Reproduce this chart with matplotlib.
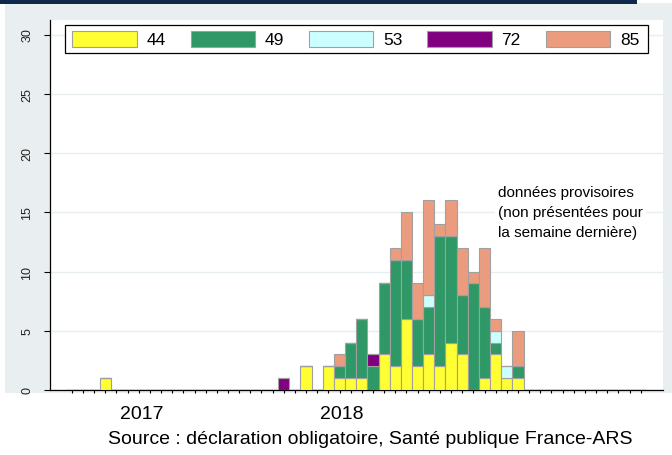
import numpy as np
import matplotlib
matplotlib.use("Agg")
import matplotlib.pyplot as plt
from matplotlib.patches import Rectangle

plt.rcParams['font.family'] = ['Liberation Sans', 'DejaVu Sans']

# weekly counts per department (52 weeks)
weeks = np.arange(52)
dep_labels = ['44', '49', '53', '72', '85']
dep_colors = ['#ffff33', '#2e9966', '#ccffff', '#800080', '#eb9c7e']

n44 = [0, 0, 0, 1, 0, 0, 0, 0, 0, 0, 0, 0, 0, 0, 0, 0, 0, 0, 0, 0,
       0, 2, 0, 2, 1, 1, 1, 0, 3, 2, 6, 2, 3, 2, 4, 3, 0, 1, 3, 1,
       1, 0, 0, 0, 0, 0, 0, 0, 0, 0, 0, 0]
n49 = [0, 0, 0, 0, 0, 0, 0, 0, 0, 0, 0, 0, 0, 0, 0, 0, 0, 0, 0, 0,
       0, 0, 0, 0, 1, 3, 5, 2, 6, 9, 5, 4, 4, 11, 9, 5, 9, 6, 1, 0,
       1, 0, 0, 0, 0, 0, 0, 0, 0, 0, 0, 0]
n53 = [0, 0, 0, 0, 0, 0, 0, 0, 0, 0, 0, 0, 0, 0, 0, 0, 0, 0, 0, 0,
       0, 0, 0, 0, 0, 0, 0, 0, 0, 0, 0, 0, 1, 0, 0, 0, 0, 0, 1, 1,
       0, 0, 0, 0, 0, 0, 0, 0, 0, 0, 0, 0]
n72 = [0, 0, 0, 0, 0, 0, 0, 0, 0, 0, 0, 0, 0, 0, 0, 0, 0, 0, 0, 1,
       0, 0, 0, 0, 0, 0, 0, 1, 0, 0, 0, 0, 0, 0, 0, 0, 0, 0, 0, 0,
       0, 0, 0, 0, 0, 0, 0, 0, 0, 0, 0, 0]
n85 = [0, 0, 0, 0, 0, 0, 0, 0, 0, 0, 0, 0, 0, 0, 0, 0, 0, 0, 0, 0,
       0, 0, 0, 0, 1, 0, 0, 0, 0, 1, 4, 3, 8, 1, 3, 4, 1, 5, 1, 0,
       3, 0, 0, 0, 0, 0, 0, 0, 0, 0, 0, 0]
series = [n44, n49, n53, n72, n85]

year_labels = ['2017', '2018']
year_pos = [6.3, 24.2]

W, H = 672, 456
fig = plt.figure(figsize=(W / 100, H / 100), dpi=100)


def fx(x):
    return x / W


def fy(y):
    return 1 - y / H


# background panels
fig.patches.append(Rectangle((fx(5), fy(394)), 1, (394 - 4) / H, transform=fig.transFigure,
                             facecolor='#e9eff1', edgecolor='none', zorder=-10))
fig.patches.append(Rectangle((0, fy(4.5)), fx(637), 4.5 / H, transform=fig.transFigure,
                             facecolor='#0f2748', edgecolor='none', zorder=-10))

ax = fig.add_axes([fx(49.5), fy(391), fx(663 - 49.5), (391 - 20.5) / H])
ax.set_facecolor('white')

bottom = np.zeros(len(weeks))
for vals, col in zip(series, dep_colors):
    vals = np.array(vals)
    ax.bar(weeks, vals, bottom=bottom, width=1.0, color=col,
           edgecolor='#a0a0a0', linewidth=0.8, zorder=3)
    bottom += vals

ax.set_xlim(-2, 53)
ax.set_ylim(0, 31.27)
ax.set_yticks(range(0, 31, 5))
ax.set_xticks(weeks)
ax.set_xticklabels([])
ax.yaxis.grid(True, color='#e6eef0', linewidth=1, zorder=0)
for s in ['top', 'right']:
    ax.spines[s].set_visible(False)
for s in ['left', 'bottom']:
    ax.spines[s].set_linewidth(0.9)
ax.tick_params(axis='y', length=4.5, width=0.8, pad=7, labelsize=9, labelcolor='#222222')
ax.tick_params(axis='x', length=2, width=0.8)
plt.setp(ax.get_yticklabels(), rotation=90, va='center')

for lab, pos in zip(year_labels, year_pos):
    ax.text(pos, -0.063, lab, transform=ax.get_xaxis_transform(), ha='center', va='center',
            fontsize=14, clip_on=False)

ax.text(0.731, 0.48, 'données provisoires\n(non présentées pour\nla semaine dernière)',
        transform=ax.transAxes, fontsize=11, ha='left', va='center', linespacing=1.55,
        bbox=dict(facecolor='white', edgecolor='none', pad=2), zorder=4)

fig.text(fx(370), fy(440), 'Source : déclaration obligatoire, Santé publique France-ARS',
         ha='center', va='center', fontsize=14)

# legend drawn by hand
fig.patches.append(Rectangle((fx(65), fy(54.3)), fx(648 - 65), (54.3 - 25.7) / H,
                             transform=fig.transFigure, facecolor='white', edgecolor='black',
                             linewidth=0.9, zorder=5))
for i, (lab, col) in enumerate(zip(dep_labels, dep_colors)):
    x0 = 72.3 + 118.3 * i
    fig.patches.append(Rectangle((fx(x0), fy(47.7)), fx(64.3), 15.4 / H,
                                 transform=fig.transFigure, facecolor=col, edgecolor='#a0a0a0',
                                 linewidth=0.8, zorder=6))
    fig.text(fx(x0 + 74.4), fy(40.5), lab, ha='left', va='center', fontsize=12.5, zorder=7)

fig.savefig('out.png', dpi=100)
